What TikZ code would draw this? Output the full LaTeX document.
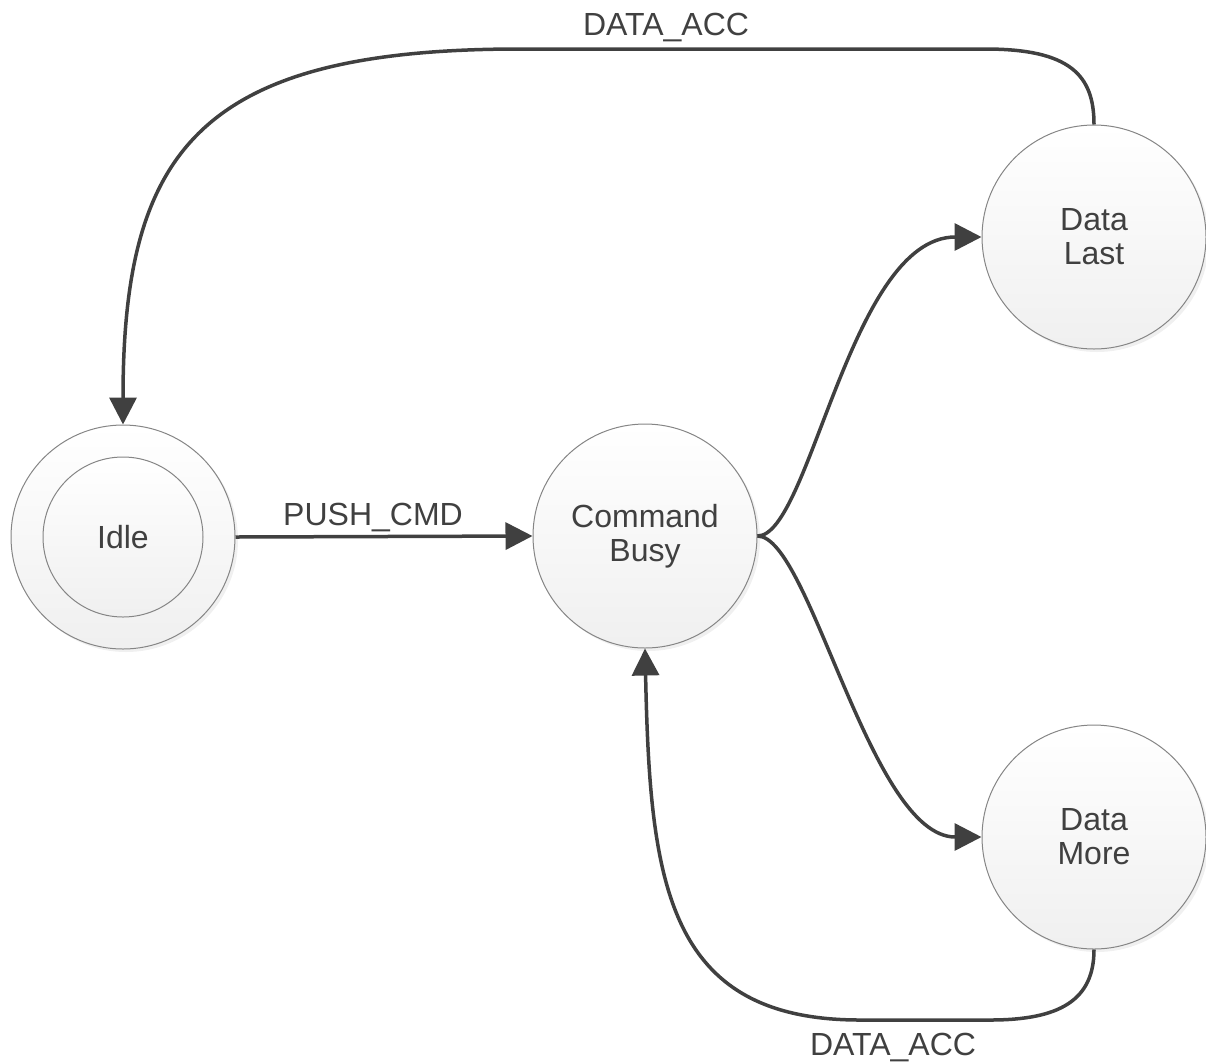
\documentclass[tikz,border=0pt]{standalone}
\usepackage{fontspec}
\setmainfont{Liberation Sans}
\usetikzlibrary{arrows.meta,shadows}
\definecolor{ink}{HTML}{404040}
\definecolor{rim}{HTML}{858585}
\tikzset{
  state/.style={circle, draw=rim, line width=1pt, inner sep=0pt,
    minimum size=224pt, top color=white, bottom color={gray!12},
    drop shadow={shadow xshift=3pt, shadow yshift=-3pt, opacity=0.12},
    text=ink, align=center, font=\fontsize{32}{34}\selectfont},
  innerstate/.style={circle, draw=rim, line width=1pt, inner sep=0pt,
    minimum size=160pt, top color=white, bottom color={gray!12},
    text=ink, font=\fontsize{32}{34}\selectfont},
  trans/.style={draw=ink, line width=3.5pt,
    -{Triangle[length=27pt,width=27pt]}},
  lbl/.style={text=ink, anchor=base, inner sep=0pt,
    font=\fontsize{32}{34}\selectfont}
}
\begin{document}
\begin{tikzpicture}[x=1pt,y=-1pt]
  \useasboundingbox (0,0) rectangle (1206,1061);

  % states
  \node[state] (idle) at (123,537) {};
  \node[innerstate] (idlein) at (123,537) {Idle};
  \node[state] (cmd)  at (645,536) {Command\\Busy};
  \node[state] (last) at (1094,237) {Data\\Last};
  \node[state] (more) at (1094,837) {Data\\More};

  % bends of the two return loops
  \coordinate (topR) at (985,49);
  \coordinate (topL) at (520,49);
  \coordinate (botR) at (990,1020);
  \coordinate (botL) at (860,1020);

  % transitions
  \draw[trans] (idle.east) -- (cmd.west);
  \draw[trans] (cmd.east) .. controls (810,536) and (850,237) .. (last.west);
  \draw[trans] (cmd.east) .. controls (810,536) and (870,837) .. (more.west);
  \draw[trans] (last.north) .. controls (1094,75) and (1070,49) .. (topR)
    -- (topL) .. controls (200,49) and (123,150) .. (idle.north);
  \draw[trans] (more.south) .. controls (1094,1000) and (1060,1020) .. (botR)
    -- (botL) .. controls (665,1020) and (650,880) .. (cmd.south);

  % transition labels
  \node[lbl] (lacc1) at (666,35) {DATA\_ACC};
  \node[lbl] (lpush) at (373,525) {PUSH\_CMD};
  \node[lbl] (lacc2) at (893,1055) {DATA\_ACC};
\end{tikzpicture}
\end{document}
